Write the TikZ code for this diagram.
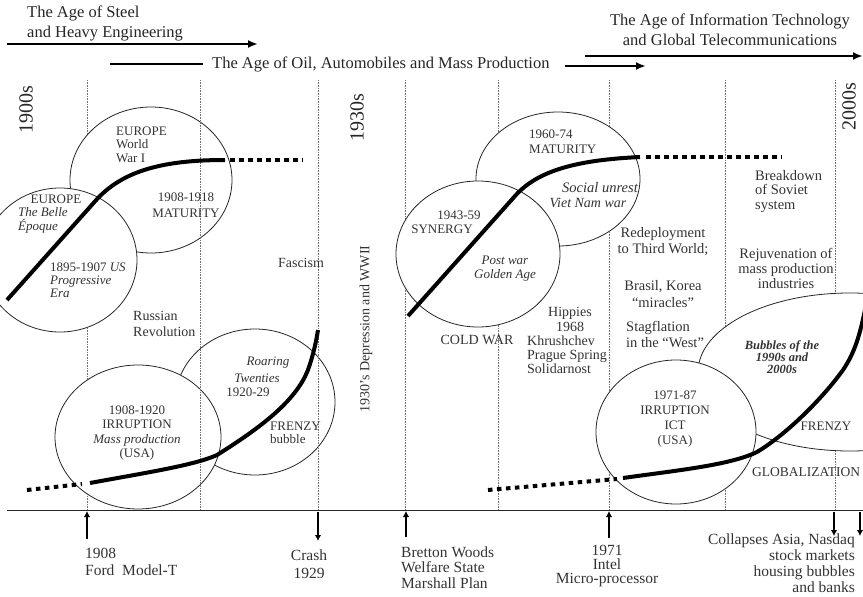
\documentclass[tikz,border=0pt]{standalone}
\usepackage{fontspec}
\setmainfont{Liberation Serif}
\usetikzlibrary{arrows.meta}
\usetikzlibrary{positioning}

\tikzset{
  yearline/.style={black!55, densely dotted, line width=0.6pt},
  phase/.style={draw=black!85, line width=0.8pt, fill=white},
  wave/.style={line width=4pt},
  wavedots/.style={line width=4pt, dash pattern=on 4.5pt off 4.5pt},
  ageline/.style={line width=2.5pt},
  agearrow/.style={line width=2.5pt, -{Latex[length=10pt,width=8pt]}},
  axarrow/.style={line width=2pt, -{Latex[length=6pt,width=6.5pt]}},
  agetext/.style={font=\fontsize{16.5}{20}\selectfont, inner sep=0pt, text=black!85},
  circtext/.style={font=\fontsize{13}{14.5}\selectfont, inner sep=0pt, text=black!80},
  sidetext/.style={font=\fontsize{14.5}{15.5}\selectfont, inner sep=0pt, text=black!80},
  bottext/.style={font=\fontsize{15.5}{16}\selectfont, inner sep=0pt, text=black!80},
  decade/.style={font=\fontsize{20}{22}\selectfont, inner sep=0pt, rotate=90, text=black!85}
}

\begin{document}
\begin{tikzpicture}[x=1pt,y=-1pt]
\useasboundingbox (0,0) rectangle (863,597);
\clip (0,0) rectangle (863,597);

\foreach \x in {87,405,498,609,725,835} \draw[yearline] (\x,80) -- (\x,510);

\draw[phase] (151,180) ellipse [x radius=81pt, y radius=73pt];
\draw[phase] (60,260) ellipse [x radius=77pt, y radius=72pt];
\draw[phase] (255,402) ellipse [x radius=80pt, y radius=73pt];
\draw[phase] (138,437) ellipse [x radius=83pt, y radius=72pt];
\draw[phase] (558,179) ellipse [x radius=82pt, y radius=67pt];
\draw[phase] (478,254) ellipse [x radius=82pt, y radius=73pt];
\draw[phase] (850,372) ellipse [x radius=152pt, y radius=79pt];
\draw[phase] (676,432) ellipse [x radius=80pt, y radius=72pt];

\foreach \x in {200,318} \draw[yearline] (\x,80) -- (\x,510);
\draw[line width=0.8pt, black!85] (7,510) -- (863,510);

\draw[wave] (7,300) -- (98,198) .. controls (125,170) and (165,160) .. (225,160);
\draw[wavedots] (230,160) -- (303,160);
\draw[wavedots] (27,490) -- (82,484);
\draw[wave] (90,483) .. controls (150,472) and (195,465) .. (217,455)
  .. controls (260,428) and (298,400) .. (309,367) .. controls (314,352) and (316,342) .. (318,330);
\draw[wave] (408,316) -- (515,196) .. controls (538,170) and (578,160) .. (640,157);
\draw[wavedots] (646,157) -- (782,157);
\draw[wavedots] (488,490) -- (617,479);
\draw[wave] (623,478) .. controls (680,470) and (730,465) .. (757,452)
  .. controls (790,432) and (825,395) .. (843,370) .. controls (855,352) and (860,335) .. (866,305);

\node[agetext, anchor=west, align=left] (steel) at (27,23) {The Age of Steel\\and Heavy Engineering};
\node[agetext, anchor=west] (oil) at (212,64) {The Age of Oil, Automobiles and Mass Production};
\node[agetext, align=center] (ict) at (730,30) {The Age of Information Technology\\and Global Telecommunications};
\coordinate (steelA) at (7,44);
\coordinate (steelB) at (258,44);
\coordinate (oilA) at (110,64);
\coordinate (oilB) at (646,66);
\coordinate (ictA) at (585,56);
\coordinate (ictB) at (863,56);
\draw[agearrow] (steelA) -- (steelB);
\draw[ageline] (oilA) -- ([xshift=-9pt]oil.west);
\draw[agearrow] ([xshift=15pt,yshift=-2pt]oil.east) -- (oilB);
\draw[agearrow] (ictA) -- (ictB);

\node[decade] (d1900) at (26,110) {1900s};
\node[decade] (d1930) at (357,118) {1930s};
\node[decade] (d2000) at (849,107) {2000s};
\node[sidetext, font=\fontsize{14}{15}\selectfont, rotate=90] (depression) at (366,329) {1930's Depression and WWII};

\node[circtext, anchor=west, align=left, font=\fontsize{13}{13.5}\selectfont] (ww1) at (116,144.5) {EUROPE\\World\\War I};
\node[circtext, align=center, font=\fontsize{13}{16}\selectfont] (mat1) at (186,205) {1908-1918\\MATURITY};
\node[circtext] (europe) at (56,199) {EUROPE};
\node[circtext, anchor=west, align=left, font=\fontsize{13}{14}\selectfont\itshape] (belle) at (18,220) {The Belle\\Époque};
\node[circtext, anchor=west, align=left, font=\fontsize{13}{13}\selectfont] (progr) at (50,280) {1895-1907 \textit{US}\\\textit{Progressive}\\\textit{Era}};
\node[sidetext, anchor=west, align=left, font=\fontsize{14}{16}\selectfont] (russia) at (133,324) {Russian\\Revolution};
\node[sidetext, font=\fontsize{14}{16}\selectfont] (fascism) at (301,263) {Fascism};

\node[circtext, align=center] (irr1) at (137,433) {1908-1920\\IRRUPTION\\\textit{Mass production}\\(USA)};
\node[circtext, font=\fontsize{13}{14}\selectfont\itshape] (roar1) at (268,363) {Roaring};
\node[circtext, font=\fontsize{13}{14}\selectfont\itshape] (roar2) at (257,378) {Twenties};
\node[circtext] (roar3) at (248,392) {1920-29};
\node[circtext, anchor=west, align=left, font=\fontsize{13}{13}\selectfont] (frenzy1) at (270,432.5) {FRENZY\\bubble};

\node[circtext, anchor=west, align=left, font=\fontsize{13}{15}\selectfont] (mat2) at (529,141.5) {1960-74\\MATURITY};
\node[sidetext, font=\fontsize{14.5}{15}\selectfont\itshape] (unrest) at (600,188) {Social unrest};
\node[sidetext, font=\fontsize{14}{15}\selectfont\itshape] (vietnam) at (588,203) {Viet Nam war};
\node[circtext] (syn1) at (459,215) {1943-59};
\node[circtext] (syn2) at (442,229) {SYNERGY};
\node[circtext, align=center, font=\fontsize{13}{14}\selectfont\itshape] (golden) at (505,269) {Post war\\Golden Age};
\node[sidetext, font=\fontsize{14}{15}\selectfont] (coldwar) at (477,340) {COLD WAR};
\node[sidetext, align=center, font=\fontsize{14}{15}\selectfont] (hippies) at (570,319.5) {Hippies\\1968};
\node[sidetext, anchor=west, align=left, font=\fontsize{14}{14}\selectfont] (prague) at (527,355) {Khrushchev\\Prague Spring\\Solidarnost};
\node[sidetext, align=center, font=\fontsize{14.5}{16}\selectfont] (redeploy) at (663,242) {Redeployment\\to Third World;};
\node[sidetext, align=center, font=\fontsize{14.5}{17}\selectfont] (brasil) at (663,294.5) {Brasil, Korea\\“miracles”};
\node[sidetext, anchor=west, align=left] (stagfl) at (626,334.5) {Stagflation\\in the “West”};
\node[sidetext, anchor=west, align=left, font=\fontsize{14.5}{14.5}\selectfont] (soviet) at (755,191.5) {Breakdown\\of Soviet\\system};
\node[sidetext, align=center, font=\fontsize{14.5}{15}\selectfont] (rejuv) at (786,268) {Rejuvenation of\\mass production\\industries};
\node[circtext, align=center, font=\fontsize{12.5}{12}\selectfont\bfseries\itshape] (bubbles) at (782,357) {Bubbles of the\\1990s and\\2000s};
\node[circtext, align=center, font=\fontsize{13}{15}\selectfont] (irr2) at (675,419.5) {1971-87\\IRRUPTION\\ICT\\(USA)};
\node[circtext] (frenzy2) at (826,426) {FRENZY};
\node[sidetext, anchor=west, font=\fontsize{13.5}{14}\selectfont] (global) at (752,472) {GLOBALIZATION};

\coordinate (fordTop) at (87,511);
\coordinate (fordFoot) at (87,539);
\coordinate (crashTop) at (318,512);
\coordinate (crashFoot) at (318,541);
\coordinate (brettonTop) at (406,511);
\coordinate (brettonFoot) at (406,537);
\coordinate (intelTop) at (609,511);
\coordinate (intelFoot) at (609,538);
\coordinate (asiaTop) at (834,512);
\coordinate (asiaFoot) at (834,536);
\coordinate (nasdaqTop) at (860,512);
\coordinate (nasdaqFoot) at (860,536);
\draw[axarrow] (fordFoot) -- (fordTop);
\draw[axarrow] (crashTop) -- (crashFoot);
\draw[axarrow] (brettonFoot) -- (brettonTop);
\draw[axarrow] (intelFoot) -- (intelTop);
\draw[axarrow] (asiaTop) -- (asiaFoot);
\draw[axarrow] (nasdaqTop) -- (nasdaqFoot);

\node[bottext, anchor=west, align=left, font=\fontsize{15.5}{17}\selectfont] (ford) at (85,561.5) {1908\\Ford~ Model-T};
\node[bottext, align=center, font=\fontsize{15.5}{18}\selectfont] (crash) at (309,564) {Crash\\1929};
\node[bottext, anchor=west, align=left, font=\fontsize{15.5}{15.5}\selectfont] (bretton) at (401,567.5) {Bretton Woods\\Welfare State\\Marshall Plan};
\node[bottext, align=center, font=\fontsize{15.5}{14}\selectfont] (intel) at (607,566) {1971\\Intel\\Micro-processor};
\node[bottext, anchor=east, align=right] (collapse) at (855,563) {Collapses Asia, Nasdaq\\stock markets\\housing bubbles\\and banks};
\end{tikzpicture}
\end{document}
